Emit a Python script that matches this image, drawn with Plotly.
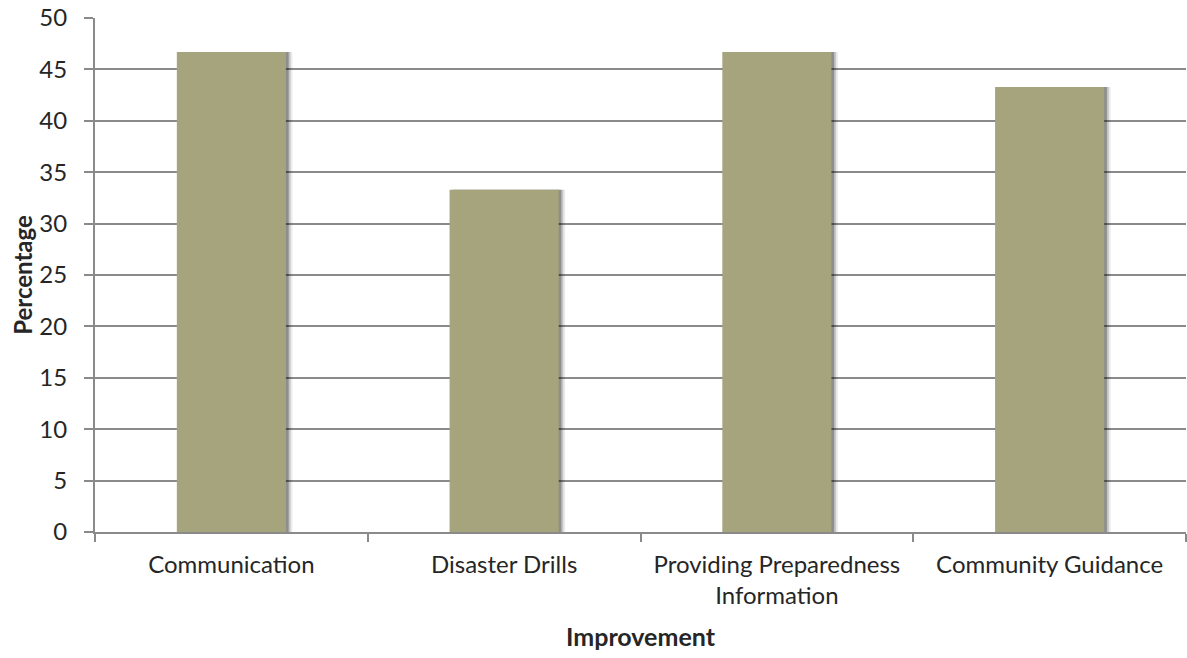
import plotly.graph_objects as go

categories = ["Communication", "Disaster Drills", "Providing Preparedness<br>Information", "Community Guidance"]
values = [46.7, 33.3, 46.7, 43.3]
y_ticks = [0, 5, 10, 15, 20, 25, 30, 35, 40, 45, 50]

font_family = "Lato, Open Sans, sans-serif"
text_color = "#262626"
grid_color = "#8a8a8a"

fig = go.Figure()
# soft shadow behind bars
for dx, alpha in [(0.024, 0.08), (0.017, 0.16), (0.010, 0.28)]:
    fig.add_trace(go.Bar(
        x=categories, y=values, width=0.4, offset=-0.2 + dx,
        marker=dict(color=f"rgba(0,0,0,{alpha})", line=dict(width=0)),
        hoverinfo="skip", showlegend=False,
    ))
fig.add_trace(go.Bar(
    x=categories, y=values, width=0.4, offset=-0.2,
    marker=dict(color="#a6a47c", line=dict(width=0)),
    showlegend=False,
))

fig.update_layout(
    width=1187, height=658,
    margin=dict(l=95, r=1, t=18, b=126),
    plot_bgcolor="white", paper_bgcolor="white",
    barmode="overlay",
    font=dict(family=font_family, size=24, color=text_color),
)
fig.update_xaxes(
    showline=True, linecolor=grid_color, linewidth=2,
    ticks="outside", tickson="boundaries", ticklen=8, tickcolor=grid_color, tickwidth=2,
    showgrid=False, ticklabelstandoff=10,
    title=dict(text="<b>Improvement</b>", font=dict(size=25, color=text_color), standoff=20),
    tickfont=dict(size=24, color=text_color),
)
fig.update_yaxes(
    range=[0, 50], tickvals=y_ticks,
    showline=True, linecolor=grid_color, linewidth=2,
    ticks="outside", ticklen=9, tickcolor=grid_color, tickwidth=2,
    minor=dict(tickvals=y_ticks, ticks="outside", ticklen=9, tickcolor=grid_color,
               tickwidth=2, showgrid=False),
    showgrid=True, gridcolor=grid_color, gridwidth=2,
    zeroline=False, ticklabelstandoff=12,
    title=dict(text="<b>Percentage</b>", font=dict(size=24, color=text_color), standoff=0),
    tickfont=dict(size=24, color=text_color),
)

fig.write_html("out.html")
